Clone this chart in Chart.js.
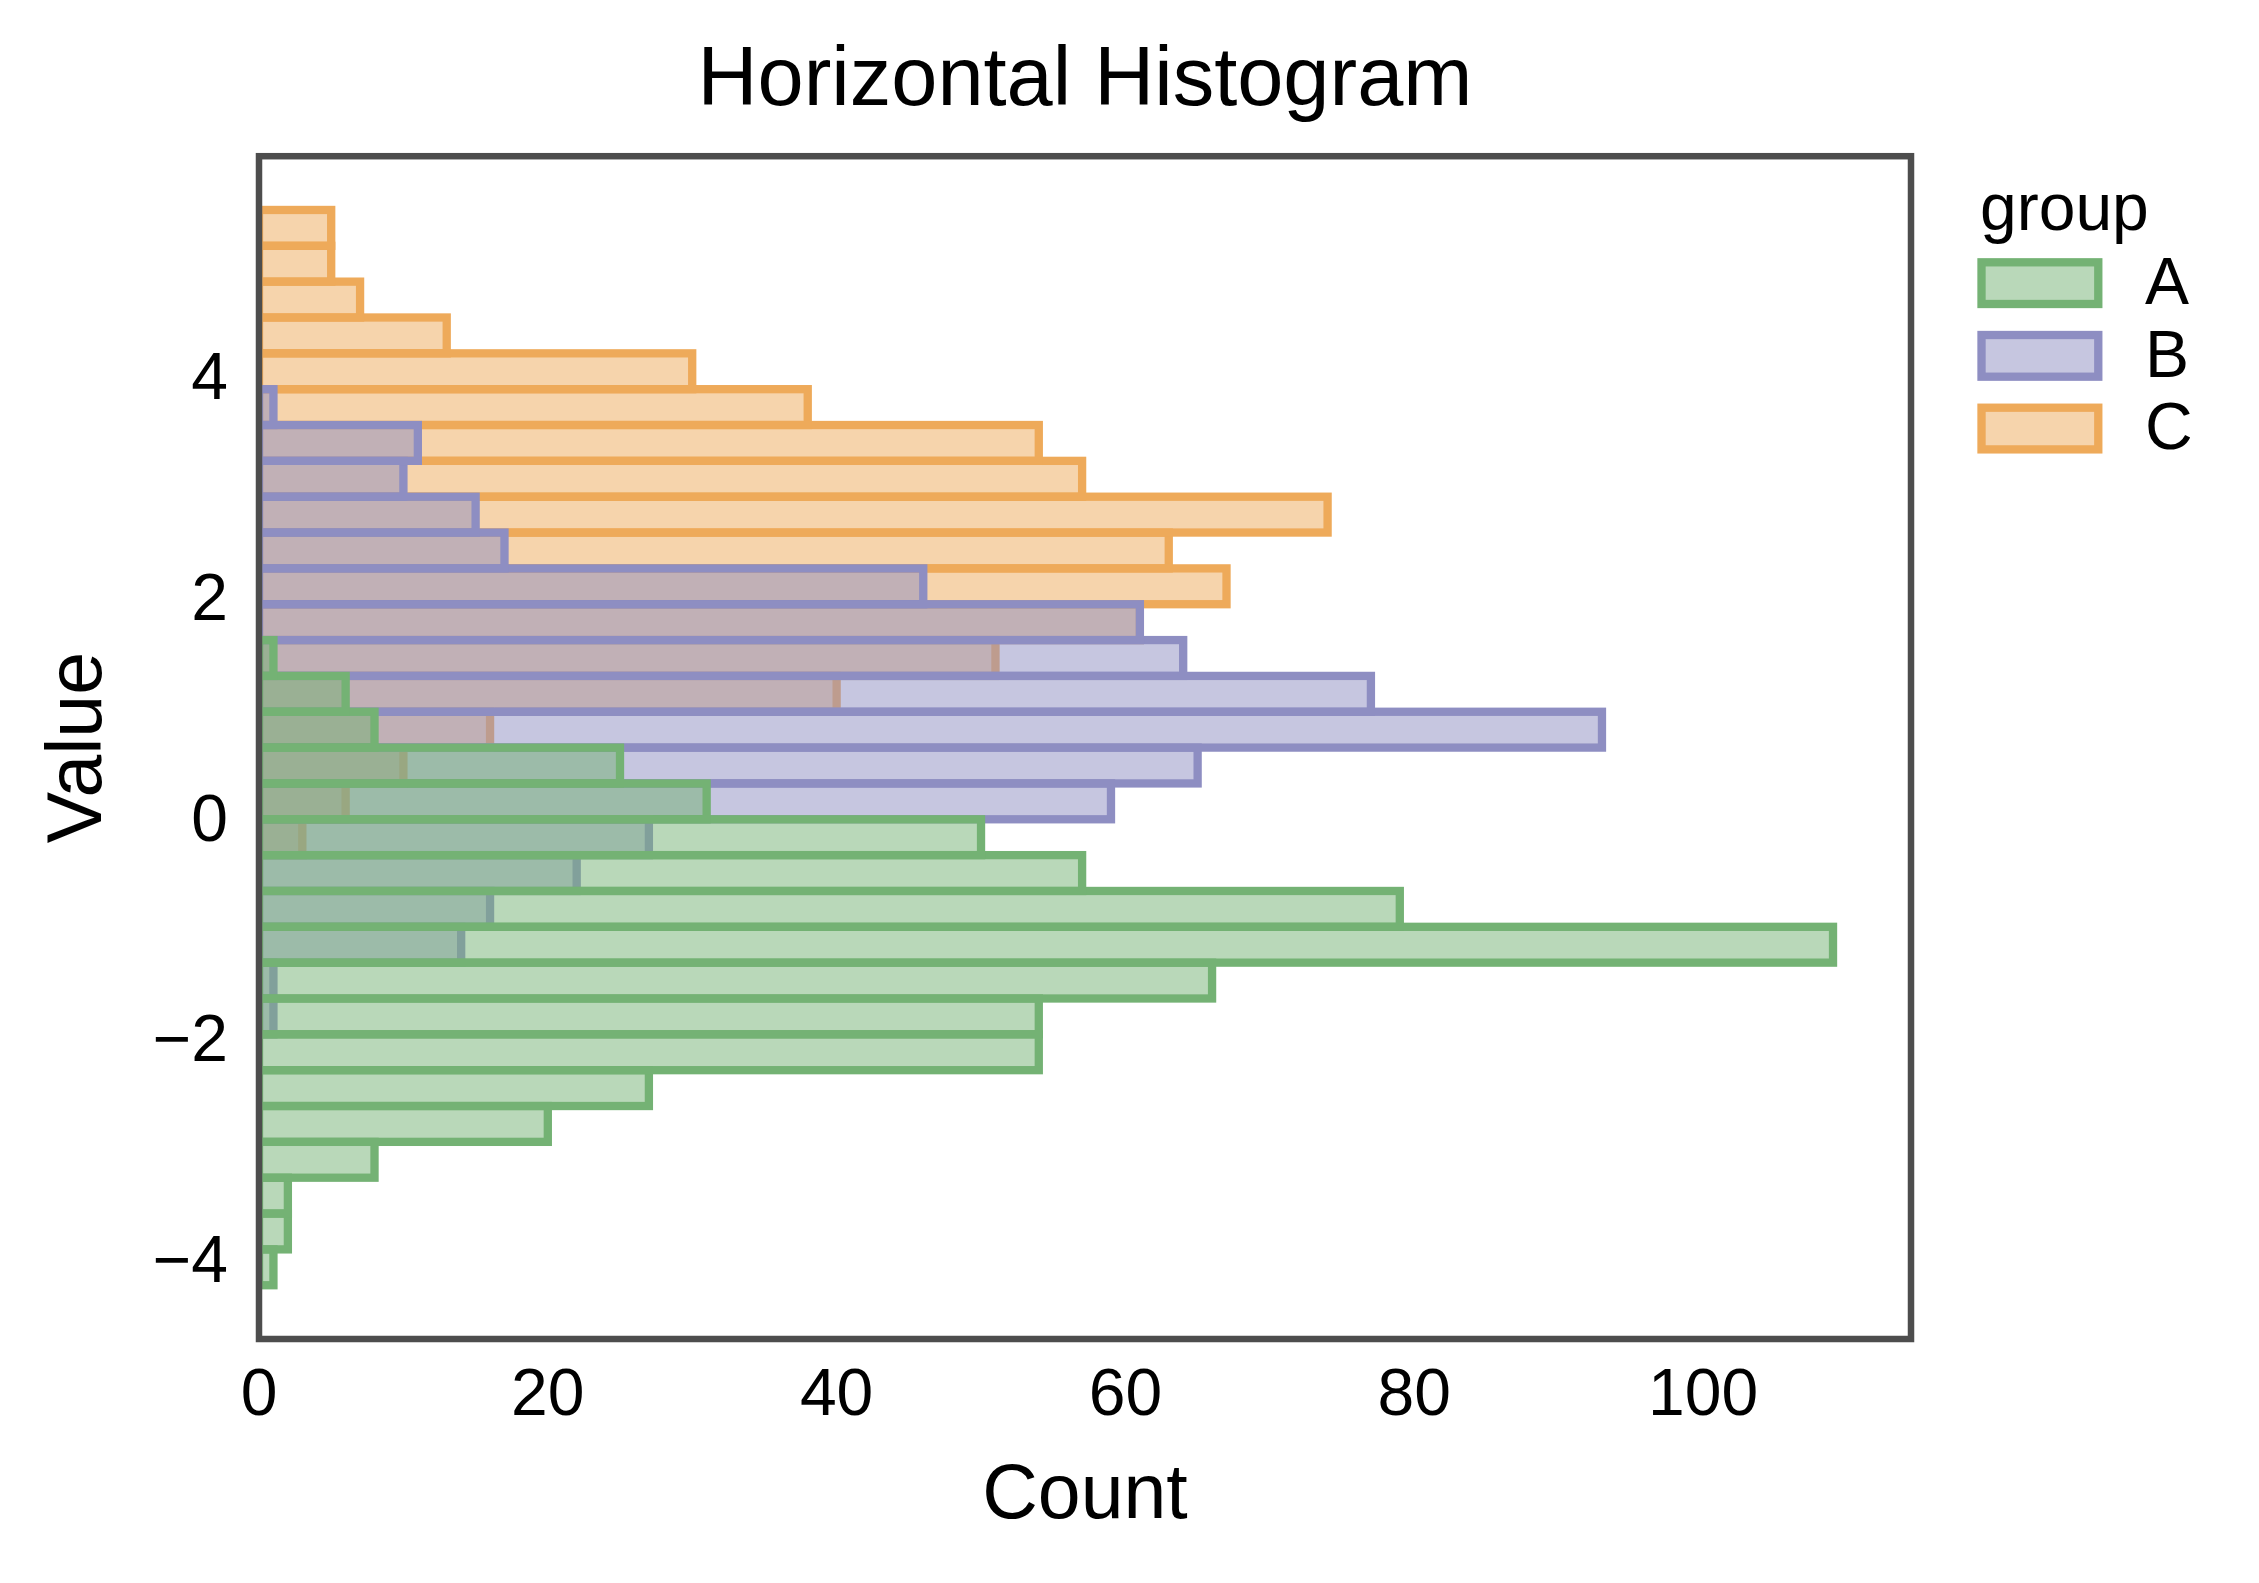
<!DOCTYPE html>
<html>
<head>
<meta charset="utf-8">
<title>Horizontal Histogram</title>
<script src="https://cdn.jsdelivr.net/npm/chart.js@4.4.1/dist/chart.umd.min.js"></script>
<style>
  html, body { margin: 0; padding: 0; background: #fff; }
  #wrap { width: 2259px; height: 1583px; }
</style>
</head>
<body>
<div id="wrap"><canvas id="histChart" width="2259" height="1583"></canvas></div>
<script>
// histogram bins, bottom to top (bin centers on the value axis)
const groups = ['A', 'B', 'C'];
const binCenters = [
  -4.080, -3.755, -3.430, -3.105, -2.780, -2.455, -2.130, -1.805, -1.480, -1.155,
  -0.830, -0.505, -0.180, 0.145, 0.470, 0.795, 1.120, 1.445, 1.770, 2.095,
  2.420, 2.745, 3.070, 3.395, 3.720, 4.045, 4.370, 4.695, 5.020, 5.345
];
const countsA = [1, 2, 2, 8, 20, 27, 54, 54, 66, 109, 79, 57, 50, 31, 25, 8, 6, 1, 0, 0, 0, 0, 0, 0, 0, 0, 0, 0, 0, 0];
const countsB = [0, 0, 0, 0, 0, 0, 0, 1, 1, 14, 16, 22, 27, 59, 65, 93, 77, 64, 61, 46, 17, 15, 10, 11, 1, 0, 0, 0, 0, 0];
const countsC = [0, 0, 0, 0, 0, 0, 0, 0, 0, 0, 0, 0, 3, 6, 10, 16, 40, 51, 61, 67, 63, 74, 57, 54, 38, 30, 13, 7, 5, 5];
const xTicks = [0, 20, 40, 60, 80, 100];
const yTicks = [-4, -2, 0, 2, 4];

const allCounts = [countsA, countsB, countsC];
const edgeColors = ['rgb(116,178,116)', 'rgb(142,142,194)', 'rgb(238,170,90)'];
const fillColors = ['rgba(116,178,116,0.5)', 'rgba(142,142,194,0.5)', 'rgba(238,170,90,0.5)'];

Chart.defaults.font.family = '"Liberation Sans", Arial, sans-serif';
Chart.defaults.color = '#000';

const fmtMinus = v => (v < 0 ? '\u2212' + Math.abs(v) : String(v));

// matplotlib strokes patch edges centred on the bar outline, so draw
// the outlines ourselves right after each dataset's fills
const outlinePlugin = {
  id: 'barOutlines',
  afterDatasetDraw(chart, args) {
    const {ctx, chartArea: a} = chart;
    const ds = chart.data.datasets[args.index];
    ctx.save();
    ctx.beginPath();
    ctx.rect(a.left, a.top, a.right - a.left, a.bottom - a.top);
    ctx.clip();
    ctx.strokeStyle = ds.borderColor;
    ctx.lineWidth = 8.3;
    args.meta.data.forEach(bar => {
      const {x, y, base, height} = bar.getProps(['x', 'y', 'base', 'height'], true);
      ctx.strokeRect(base, y - height / 2, x - base, height);
    });
    ctx.restore();
  }
};

// axes frame (all four spines)
const framePlugin = {
  id: 'frame',
  afterDatasetsDraw(chart) {
    const {ctx, chartArea: a} = chart;
    ctx.save();
    ctx.strokeStyle = '#4d4d4d';
    ctx.lineWidth = 6.5;
    ctx.strokeRect(a.left, a.top, a.right - a.left, a.bottom - a.top);
    ctx.restore();
  }
};

// legend on the right with a title, like seaborn's
const legendPlugin = {
  id: 'groupLegend',
  afterDraw(chart) {
    const ctx = chart.ctx;
    ctx.save();
    ctx.font = '66px "Liberation Sans", Arial, sans-serif';
    ctx.textAlign = 'left';
    ctx.textBaseline = 'alphabetic';
    ctx.fillStyle = '#000';
    ctx.fillText('group', 1980, 230);
    chart.data.datasets.forEach((ds, i) => {
      const y = 262.3 + i * 72.7;
      ctx.fillStyle = ds.backgroundColor;
      ctx.fillRect(1981.5, y, 116.8, 41.7);
      ctx.strokeStyle = ds.borderColor;
      ctx.lineWidth = 8.3;
      ctx.strokeRect(1981.5, y, 116.8, 41.7);
      ctx.fillStyle = '#000';
      ctx.fillText(ds.label, 2145, y + 41.7);
    });
    ctx.restore();
  }
};

const datasets = groups.map((g, k) => ({
  label: g,
  data: binCenters.map((c, i) => ({x: allCounts[k][i], y: c})).filter(p => p.x > 0),
  backgroundColor: fillColors[k],
  borderColor: edgeColors[k],
  borderWidth: 0,
  barPercentage: 1,
  categoryPercentage: 1,
  grouped: false,
  inflateAmount: 0
}));

const chart = new Chart(document.getElementById('histChart').getContext('2d'), {
  type: 'bar',
  data: {datasets: datasets},
  options: {
    indexAxis: 'y',
    responsive: false,
    devicePixelRatio: 1,
    animation: false,
    layout: {padding: {left: 0, right: 348, top: 0, bottom: 0}},
    scales: {
      x: {
        type: 'linear',
        min: 0,
        max: 114.4,
        grid: {display: false, drawTicks: false},
        border: {display: false},
        afterBuildTicks: s => { s.ticks = xTicks.map(v => ({value: v})); },
        afterFit: s => { s.height = 244; },
        ticks: {font: {size: 66}, color: '#000', padding: 18, maxRotation: 0, autoSkip: false, callback: fmtMinus},
        title: {display: true, text: 'Count', font: {size: 77}, color: '#000', padding: {top: 0, bottom: 40}}
      },
      y: {
        type: 'linear',
        min: -4.73,
        max: 5.995,
        offset: false,
        grid: {display: false, drawTicks: false, offset: false},
        border: {display: false},
        afterBuildTicks: s => { s.ticks = yTicks.map(v => ({value: v})); },
        afterFit: s => { s.width = 259; },
        ticks: {font: {size: 66}, color: '#000', padding: 31, labelOffset: 5, autoSkip: false, callback: fmtMinus},
        title: {display: true, text: 'Value', font: {size: 77}, color: '#000', padding: {top: 34, bottom: 0}}
      }
    },
    plugins: {
      title: {
        display: true,
        text: 'Horizontal Histogram',
        fullSize: false,
        font: {size: 83, weight: 'normal'},
        color: '#000',
        padding: {top: 32, bottom: 24.6}
      },
      legend: {display: false},
      tooltip: {enabled: false}
    }
  },
  plugins: [outlinePlugin, framePlugin, legendPlugin]
});
</script>
</body>
</html>
